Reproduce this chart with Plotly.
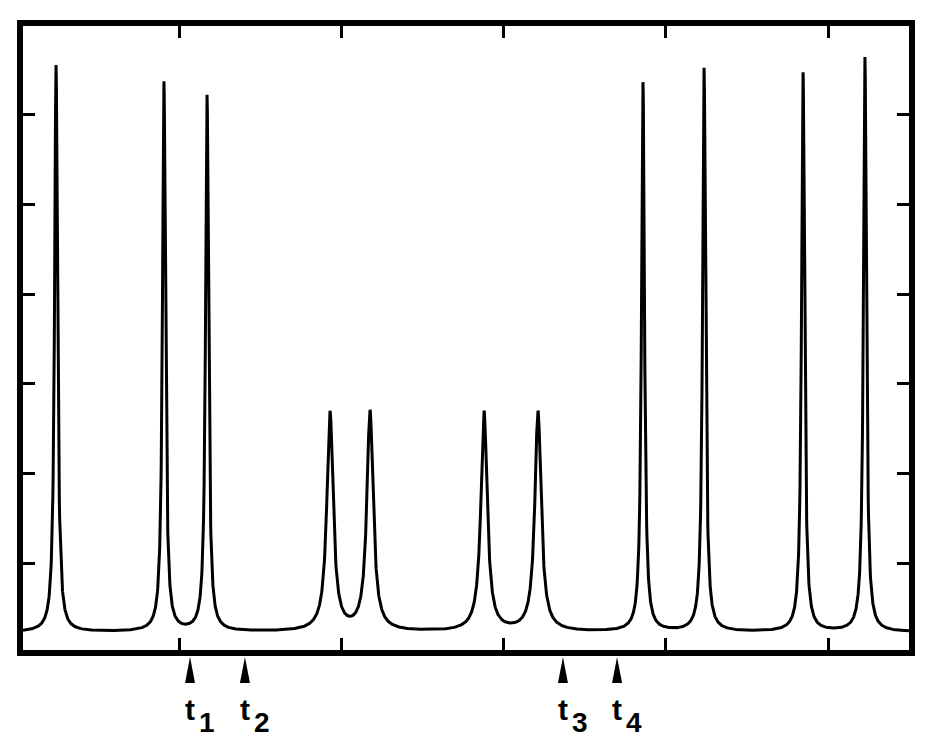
import numpy as np
import plotly.graph_objects as go

# ---- data (arbitrary units) ----
peak_pos = [-0.765, -0.099, 0.167, 0.926, 1.173, 1.877, 2.210, 2.858, 3.235, 3.846, 4.228]
peak_top = [6.55, 6.37, 6.22, 2.70, 2.71, 2.70, 2.70, 6.36, 6.52, 6.47, 6.64]
peak_hwhm = [0.0111, 0.0111, 0.0111, 0.0235, 0.0235, 0.0235, 0.0235, 0.0111, 0.0111, 0.0111, 0.0111]
baseline = 0.237
x_ticks = [0, 1, 2, 3, 4]
y_ticks = [1, 2, 3, 4, 5, 6]
time_marks = [0.062, 0.401, 2.364, 2.698]
time_labels = ["1", "2", "3", "4"]
x_range = [-0.969, 4.5]
y_range = [0.038, 6.985]

pos = np.array(peak_pos)
top = np.array(peak_top)
g = np.array(peak_hwhm)


def lor(x, c, w):
    return 1.0 / (1.0 + ((x - c) / w) ** 2)


# amplitudes so that each peak reaches its read-off top value
M = np.array([[lor(pos[i], pos[j], g[j]) for j in range(len(pos))] for i in range(len(pos))])
amp = np.linalg.solve(M, top - baseline)

grid = [np.linspace(x_range[0], x_range[1], 3000)]
for c, w in zip(pos, g):
    grid.append(c + w * np.linspace(-40, 40, 401))
xs = np.unique(np.concatenate(grid))
xs = xs[(xs >= x_range[0]) & (xs <= x_range[1])]
ys = baseline + sum(a * lor(xs, c, w) for a, c, w in zip(amp, pos, g))

fig = go.Figure()
fig.add_trace(go.Scatter(x=xs, y=ys, mode="lines",
                         line=dict(color="black", width=3),
                         hoverinfo="skip", showlegend=False))

axis_common = dict(showline=True, linewidth=6, linecolor="black", mirror="ticks",
                   ticks="inside", ticklen=12, tickwidth=3, tickcolor="black",
                   showticklabels=False, showgrid=False, zeroline=False)

shapes = []
annotations = []
for m, lab in zip(time_marks, time_labels):
    shapes.append(dict(type="path", xref="x", yref="paper",
                       xsizemode="pixel", ysizemode="pixel",
                       xanchor=m, yanchor=0,
                       path="M 0 -7 L -5 -33 L 5 -33 Z",
                       fillcolor="black", line=dict(width=0)))
    annotations.append(dict(x=m, y=0, xref="x", yref="paper", text="t",
                            showarrow=False, xanchor="center", yanchor="middle",
                            yshift=-59,
                            font=dict(family="Liberation Sans", size=30,
                                      color="black", weight="bold")))
    annotations.append(dict(x=m, y=0, xref="x", yref="paper", text=lab,
                            showarrow=False, xanchor="center", yanchor="middle",
                            xshift=17, yshift=-72,
                            font=dict(family="Liberation Sans", size=28,
                                      color="black", weight="bold")))

# the page body has an 8px default margin; compensate so the plot lands where the reference has it
fig.update_layout(
    width=937, height=743,
    margin=dict(l=15, r=36, t=14, b=101),
    paper_bgcolor="white", plot_bgcolor="white",
    xaxis=dict(range=x_range, tickvals=x_ticks, **axis_common),
    yaxis=dict(range=y_range, tickvals=y_ticks, **axis_common),
    shapes=shapes, annotations=annotations,
)

fig.write_html("out.html")
